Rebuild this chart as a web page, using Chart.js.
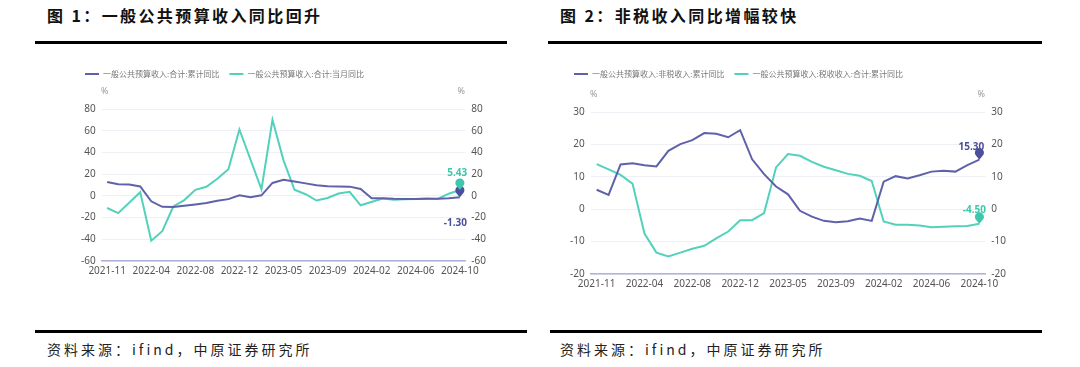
<!DOCTYPE html>
<html>
<head>
<meta charset="utf-8">
<script src="https://cdn.jsdelivr.net/npm/chart.js@4.4.0/dist/chart.umd.min.js"></script>
<style>
body{margin:0;width:1080px;height:367px;background:#fff;position:relative;overflow:hidden;font-family:"Noto Sans CJK SC",sans-serif}
.title{position:absolute;top:3px;font-size:16px;font-weight:bold;letter-spacing:2.4px;color:#111;white-space:nowrap}
.rule{position:absolute;height:3px;background:#000}
.src{position:absolute;top:339px;font-size:14px;letter-spacing:3px;color:#222;white-space:nowrap}
canvas{position:absolute}
</style>
</head>
<body>
<div class="title" style="left:47px">图 1：一般公共预算收入同比回升</div>
<div class="title" style="left:560px">图 2：非税收入同比增幅较快</div>
<div class="rule" style="left:35px;width:472px;top:41px"></div>
<div class="rule" style="left:548px;width:494px;top:41px"></div>
<canvas id="c1" width="440" height="225" style="left:60px;top:60px"></canvas>
<canvas id="c2" width="460" height="238" style="left:560px;top:60px"></canvas>
<div class="rule" style="left:35px;width:492px;top:330px"></div>
<div class="rule" style="left:550px;width:492px;top:330px"></div>
<div class="src" style="left:47px">资料来源：ifind，中原证券研究所</div>
<div class="src" style="left:560px">资料来源：ifind，中原证券研究所</div>
<script>
// months (Jan is merged into Feb in this data)
var months = ['2021-11','2021-12','2022-02','2022-03','2022-04','2022-05','2022-06','2022-07','2022-08','2022-09','2022-10','2022-11','2022-12',
  '2023-02','2023-03','2023-04','2023-05','2023-06','2023-07','2023-08','2023-09','2023-10','2023-11','2023-12',
  '2024-02','2024-03','2024-04','2024-05','2024-06','2024-07','2024-08','2024-09','2024-10'];

// chart 1
var budgetCum = [12.7,10.7,10.5,8.6,-5.0,-10.1,-10.2,-9.2,-8.0,-6.6,-4.5,-3.0,0.6,
  -1.2,0.5,11.9,14.9,13.3,11.5,9.7,8.9,8.6,8.5,6.4,
  -2.3,-2.3,-2.7,-2.8,-2.8,-2.6,-2.6,-2.2,-1.3];
var budgetMonth = [-11.2,-15.9,null,3.4,-41.3,-32.5,-9.8,-3.9,5.6,8.4,15.7,24.5,61.2,
  null,6.0,70.0,32.7,5.6,1.5,-4.3,-2.0,2.2,3.7,-8.7,
  null,-2.5,-3.5,-3.2,-3.0,-2.4,-2.8,2.0,5.43];

// chart 2
var nonTaxCum = [6.0,4.4,13.8,14.2,13.6,13.2,18.0,20.1,21.3,23.5,23.3,22.2,24.4,
  15.4,10.8,7.0,4.6,-0.5,-2.3,-3.6,-4.0,-3.7,-2.9,-3.6,
  8.5,10.2,9.5,10.5,11.6,11.9,11.6,13.6,15.3];
var taxCum = [13.9,12.3,10.6,7.9,-7.5,-13.4,-14.6,-13.4,-12.2,-11.3,-9.0,-6.9,-3.4,
  -3.4,-1.2,12.9,17.0,16.5,14.6,13.1,12.0,10.9,10.3,8.7,
  -3.8,-4.8,-4.8,-5.0,-5.6,-5.4,-5.3,-5.2,-4.5];

var axis1 = {min:-60, max:80, step:20};
var axis2 = {min:-20, max:30, step:10};

var purple = '#5f62a9';
var teal = '#52d1bb';

var legendGap = {
  id:'legendGap',
  beforeInit: function(chart, args, opts){
    var fit = chart.legend.fit;
    chart.legend.fit = function(){
      fit.bind(chart.legend)();
      this.height += opts.gap;
    };
  }
};

var pctLabels = {
  id:'pctLabels',
  afterDraw: function(chart){
    var ctx = chart.ctx, a = chart.chartArea;
    ctx.save();
    ctx.fillStyle = '#999';
    ctx.font = '9px "Noto Sans"';
    ctx.textAlign = 'center';
    ctx.textBaseline = 'middle';
    ctx.fillText('%', a.left + 3, a.top - 18);
    ctx.fillText('%', a.right - 4, a.top - 18);
    ctx.restore();
  }
};

var pins = {
  id:'pins',
  afterDatasetsDraw: function(chart, args, opts){
    var ctx = chart.ctx;
    chart.data.datasets.forEach(function(ds, i){
      var meta = chart.getDatasetMeta(i);
      var pt = meta.data[meta.data.length - 1];
      var v = ds.data[ds.data.length - 1];
      var o = opts.labels[i];
      var hx = pt.x, hy = pt.y - 7, r = 4.5;
      ctx.save();
      ctx.fillStyle = o.pin;
      ctx.beginPath();
      ctx.arc(hx, hy, r, Math.PI * 0.8, Math.PI * 0.2, false);
      ctx.lineTo(hx, pt.y);
      ctx.closePath();
      ctx.fill();
      ctx.font = 'bold 10px "Noto Sans"';
      ctx.fillStyle = o.color;
      ctx.textAlign = 'center';
      ctx.textBaseline = 'middle';
      ctx.fillText(v.toFixed(2), pt.x + o.dx, pt.y + o.dy);
      ctx.restore();
    });
  }
};

function makeChart(id, names, series, ax, pad, gap, labelOpts){
  return new Chart(document.getElementById(id).getContext('2d'), {
    type:'line',
    data:{
      labels: months,
      datasets:[
        {label:names[0], data:series[0], borderColor:purple, backgroundColor:purple, borderWidth:2, pointRadius:0, tension:0, spanGaps:true},
        {label:names[1], data:series[1], borderColor:teal, backgroundColor:teal, borderWidth:2, pointRadius:0, tension:0, spanGaps:true}
      ]
    },
    options:{
      responsive:false,
      animation:false,
      layout:{padding:pad},
      plugins:{
        legend:{
          align:'start',
          labels:{usePointStyle:true, pointStyle:'line', pointStyleWidth:14, color:'#777', font:{size:8, family:'"Noto Sans CJK SC"'}, padding:10}
        },
        tooltip:{enabled:false},
        legendGap:{gap:gap},
        pins:{labels:labelOpts}
      },
      scales:{
        x:{
          offset:true,
          grid:{display:false, drawTicks:false},
          border:{color:'#aeb2dc', width:1.5},
          ticks:{autoSkip:false, maxRotation:0, padding:4, color:'#555', font:{size:10, family:'"Noto Sans"'},
            callback:function(v, i){ return i % 4 === 0 ? months[i] : ''; }}
        },
        y:{
          position:'left', min:ax.min, max:ax.max,
          grid:{color:'#eef0f6', drawTicks:false},
          border:{display:false},
          ticks:{stepSize:ax.step, padding:6, color:'#555', font:{size:10, family:'"Noto Sans"'}}
        },
        y1:{
          position:'right', display:true, min:ax.min, max:ax.max,
          grid:{display:false, drawTicks:false},
          border:{display:false},
          ticks:{stepSize:ax.step, padding:6, color:'#555', font:{size:10, family:'"Noto Sans"'}}
        }
      }
    },
    plugins:[legendGap, pctLabels, pins]
  });
}

makeChart('c1',
  ['一般公共预算收入:合计:累计同比','一般公共预算收入:合计:当月同比'],
  [budgetCum, budgetMonth], axis1,
  {left:15, right:8, top:0, bottom:4}, 21,
  [{dx:-4.5, dy:26, color:'#4b4f9c', pin:'#4b4f9c'}, {dx:-2.5, dy:-17, color:'#3fc7ad', pin:'#3fc7ad'}]);

makeChart('c2',
  ['一般公共预算收入:非税收入:累计同比','一般公共预算收入:税收收入:合计:累计同比'],
  [nonTaxCum, taxCum], axis2,
  {left:4, right:8, top:0, bottom:4}, 24,
  [{dx:-8, dy:-12, color:'#4b4f9c', pin:'#4b4f9c'}, {dx:-5, dy:-13.5, color:'#3fc7ad', pin:'#3fc7ad'}]);
</script>
</body>
</html>
